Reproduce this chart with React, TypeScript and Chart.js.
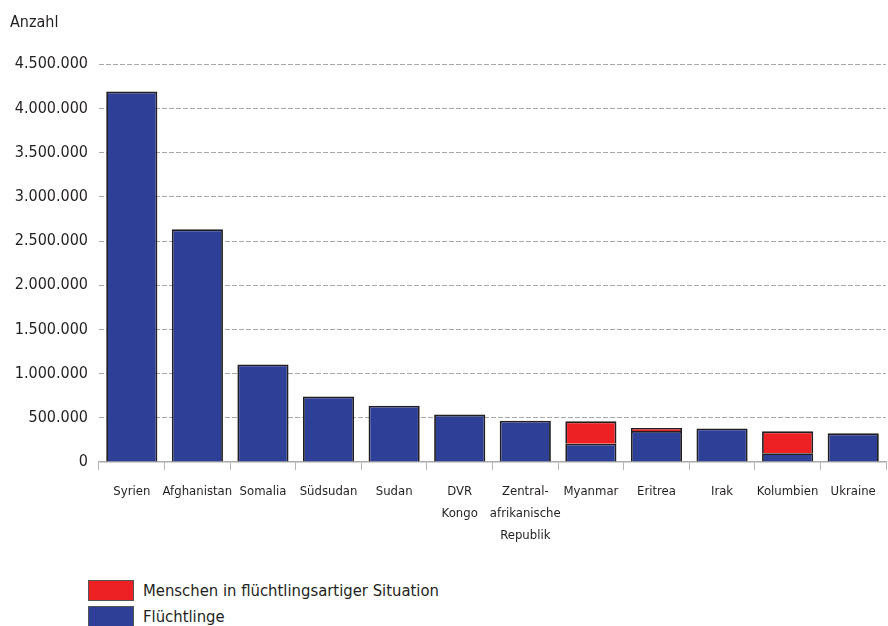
import React, { useEffect, useRef } from "react";
import { Chart, registerables } from "chart.js";

Chart.register(...registerables);

const categories: (string | string[])[] = [
  "Syrien",
  "Afghanistan",
  "Somalia",
  "Südsudan",
  "Sudan",
  ["DVR", "Kongo"],
  ["Zentral-", "afrikanische", "Republik"],
  "Myanmar",
  "Eritrea",
  "Irak",
  "Kolumbien",
  "Ukraine",
];

const fluechtlinge = [4190000, 2632000, 1104000, 742000, 636000, 536000, 468000, 206000, 352000, 380000, 100000, 324000];
const fluechtlingsartig = [0, 0, 0, 0, 0, 0, 0, 254000, 33000, 0, 247000, 0];

const yTicks = [0, 500000, 1000000, 1500000, 2000000, 2500000, 3000000, 3500000, 4000000, 4500000];

const seriesNames = ["Flüchtlinge", "Menschen in flüchtlingsartiger Situation"];

const BLUE = "#2e3f98";
const RED = "#ed2024";
const FONT = "'DejaVu Sans Condensed', 'DejaVu Sans', sans-serif";

function fmt(v: number): string {
  const s = String(Math.round(v));
  return s.replace(/\B(?=(\d{3})+(?!\d))/g, ".");
}

export default function App() {
  const ref = useRef<HTMLCanvasElement | null>(null);

  useEffect(() => {
    if (!ref.current) return;
    const chart = new Chart(ref.current, {
      type: "bar",
      data: {
        labels: categories,
        datasets: [
          {
            label: seriesNames[0],
            data: fluechtlinge,
            backgroundColor: BLUE,
            borderColor: "#231f20",
            borderWidth: 1.8,
            barPercentage: 0.78,
            categoryPercentage: 1,
          },
          {
            label: seriesNames[1],
            data: fluechtlingsartig,
            backgroundColor: RED,
            borderColor: "#231f20",
            borderWidth: 1.8,
            barPercentage: 0.78,
            categoryPercentage: 1,
          },
        ],
      },
      options: {
        responsive: false,
        animation: false,
        layout: { padding: { left: 10, right: 2, top: 0, bottom: 0 } },
        plugins: {
          legend: { display: false },
          tooltip: { enabled: false },
          title: {
            display: true,
            text: "Anzahl",
            align: "start",
            color: "#231f20",
            font: { family: FONT, size: 16, weight: "normal" },
            padding: { top: 13, bottom: 32 },
          },
        },
        scales: {
          x: {
            stacked: true,
            afterFit: (s: any) => {
              s.height = 98;
            },
            grid: {
              offset: true,
              drawOnChartArea: false,
              drawTicks: true,
              tickLength: 8,
              color: "#b5b5b5",
            },
            border: { display: true, color: "#aaaaaa", width: 1.5 },
            ticks: {
              color: "#231f20",
              padding: 11,
              maxRotation: 0,
              autoSkip: false,
              font: { family: FONT, size: 13, lineHeight: 22 / 13 },
            },
          },
          y: {
            stacked: true,
            min: 0,
            max: 4500000,
            afterFit: (s: any) => {
              s.width = 89;
            },
            afterBuildTicks: (s: any) => {
              s.ticks = yTicks.map((v) => ({ value: v }));
            },
            grid: {
              drawTicks: false,
              color: (ctx: any) => (ctx.tick && ctx.tick.value === 0 ? "rgba(0,0,0,0)" : "#a8a8a8"),
              lineWidth: 1,
            },
            border: { display: false, dash: [5, 2] },
            ticks: {
              color: "#231f20",
              padding: 11,
              font: { family: FONT, size: 16 },
              callback: (v: any) => fmt(Number(v)),
            },
          },
        },
      },
    });
    return () => chart.destroy();
  }, []);

  const box = (color: string): React.CSSProperties => ({
    position: "absolute",
    left: 88,
    width: 44,
    height: 19,
    background: color,
    border: "1px solid #555",
  });
  const txt: React.CSSProperties = {
    position: "absolute",
    left: 143,
    fontFamily: FONT,
    fontSize: 16.5,
    color: "#231f20",
    lineHeight: "21px",
    whiteSpace: "nowrap",
  };

  return (
    <div style={{ position: "absolute", left: 0, top: 0, width: 888, height: 626, background: "#fff", overflow: "hidden" }}>
      <canvas ref={ref} width={888} height={560} style={{ display: "block" }} />
      <div style={{ ...box(RED), top: 580 }} />
      <div style={{ ...txt, top: 580 }}>{seriesNames[1]}</div>
      <div style={{ ...box(BLUE), top: 606 }} />
      <div style={{ ...txt, top: 606 }}>{seriesNames[0]}</div>
    </div>
  );
}
